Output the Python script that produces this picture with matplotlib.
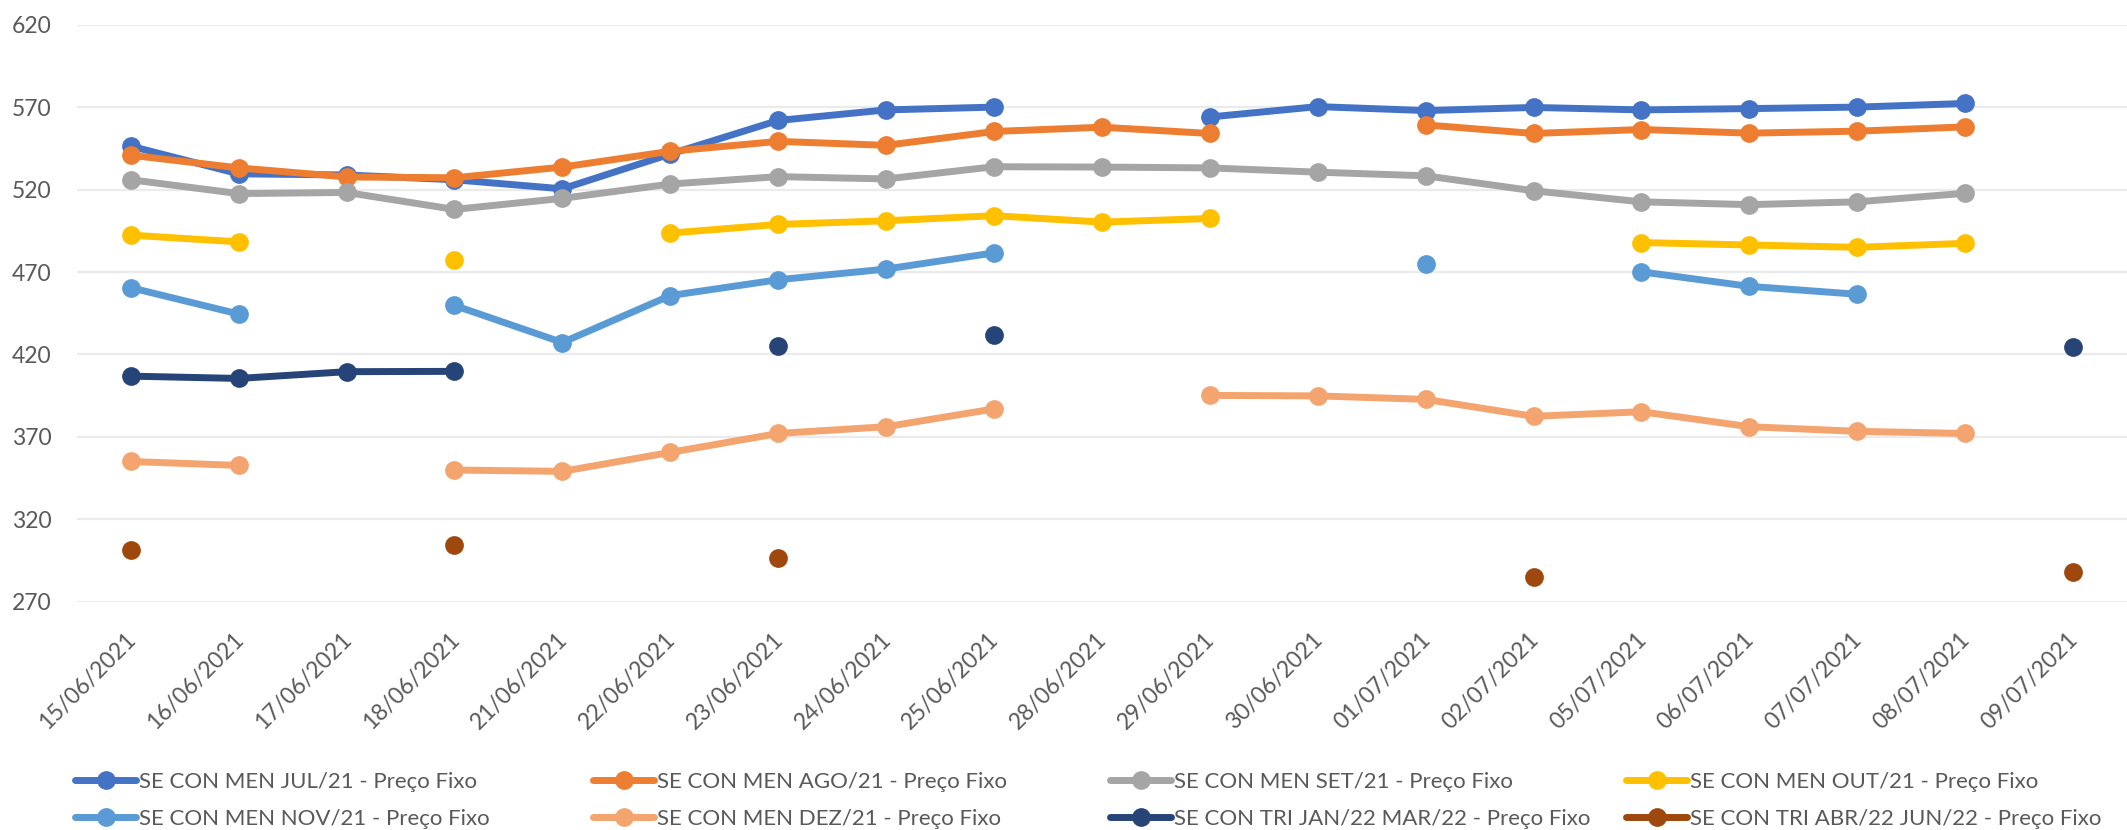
import numpy as np
import matplotlib
matplotlib.use("Agg")
import matplotlib.pyplot as plt
import matplotlib.transforms as mtransforms

nan = np.nan

# categorias (datas)
datas = ['15/06/2021', '16/06/2021', '17/06/2021', '18/06/2021', '21/06/2021',
         '22/06/2021', '23/06/2021', '24/06/2021', '25/06/2021', '28/06/2021',
         '29/06/2021', '30/06/2021', '01/07/2021', '02/07/2021', '05/07/2021',
         '06/07/2021', '07/07/2021', '08/07/2021', '09/07/2021']

# series
jul21 = [546.4, 529.6, 528.9, 526.0, 520.5, 541.6, 562.0, 568.4, 570.1, nan,
         564.1, 570.4, 568.0, 569.9, 568.4, 569.2, 570.1, 572.3, nan]
ago21 = [540.9, 533.2, 527.7, 527.2, 533.7, 543.3, 549.3, 546.9, 555.3, 557.9,
         554.1, nan, 559.3, 554.1, 556.5, 554.3, 555.5, 558.1, nan]
set21 = [526.0, 517.6, 518.3, 508.0, 514.7, 523.4, 527.9, 526.5, 533.9, 533.7,
         533.2, 530.6, 528.4, 519.3, 512.6, 510.9, 512.6, 517.8, nan]
out21 = [492.4, 488.3, nan, 477.3, nan, 493.6, 498.9, 501.1, 504.2, 500.3,
         502.5, nan, nan, nan, 487.9, 486.4, 485.0, 487.4, nan]
nov21 = [460.5, 444.5, nan, 449.7, 427.2, 455.7, 465.3, 471.8, 481.6, nan,
         nan, nan, 474.9, nan, 470.1, 461.3, 456.5, nan, nan]
dez21 = [355.0, 352.6, nan, 349.8, 349.0, 360.5, 372.0, 376.1, 386.9, nan,
         395.1, 394.8, 392.7, 382.4, 385.2, 376.1, 373.3, 372.0, nan]
tri_jan22 = [406.8, 405.4, 409.5, 409.7, nan, nan, 424.8, nan, 432.0, nan,
             nan, nan, nan, nan, nan, nan, nan, nan, 424.6]
tri_abr22 = [301.3, nan, nan, 304.2, nan, nan, 296.3, nan, nan, nan,
             nan, nan, nan, 285.0, nan, nan, nan, nan, 288.0]

series = [
    ("SE CON MEN JUL/21 - Preço Fixo", jul21, "#4472C4"),
    ("SE CON MEN AGO/21 - Preço Fixo", ago21, "#ED7D31"),
    ("SE CON MEN SET/21 - Preço Fixo", set21, "#A5A5A5"),
    ("SE CON MEN OUT/21 - Preço Fixo", out21, "#FFC000"),
    ("SE CON MEN NOV/21 - Preço Fixo", nov21, "#5B9BD5"),
    ("SE CON MEN DEZ/21 - Preço Fixo", dez21, "#F4A46E"),
    ("SE CON TRI JAN/22 MAR/22 - Preço Fixo", tri_jan22, "#264478"),
    ("SE CON TRI ABR/22 JUN/22 - Preço Fixo", tri_abr22, "#9E480E"),
]

plt.rcParams['font.family'] = ['Lato', 'DejaVu Sans']
cor_texto = "#595959"

fig = plt.figure(figsize=(21.27, 8.30), dpi=100)
ax = fig.add_axes([0.0361, 0.2753, 0.9639, 0.6947])

x = np.arange(len(datas))
linhas = []
for nome, vals, cor in series:
    ln, = ax.plot(x, np.array(vals, dtype=float), color=cor, lw=5, marker='o',
                  markersize=13.5, markeredgewidth=0, solid_capstyle='round',
                  label=nome, zorder=3)
    linhas.append(ln)

ax.set_xlim(-0.5, len(datas) - 0.5)
ax.set_ylim(270, 620)
ax.set_yticks(np.arange(270, 621, 50))
ax.grid(axis='y', color='#EBEBEB', lw=1.6, zorder=0)
ax.set_axisbelow(True)
for s in ax.spines.values():
    s.set_visible(False)

ax.set_xticks(x)
ax.set_xticklabels(datas, rotation=45, ha='right', va='top')
ax.tick_params(axis='x', length=0, pad=19.5, labelsize=16.5, labelcolor=cor_texto)
ax.tick_params(axis='y', length=0, pad=18, labelsize=16.5, labelcolor=cor_texto)
desloc = mtransforms.ScaledTranslation(9 / 100, 0, fig.dpi_scale_trans)
for lb in ax.get_xticklabels():
    lb.set_transform(lb.get_transform() + desloc)

# legenda: 4 colunas de largura igual, 2 linhas
col_x = [75, 593, 1110, 1626]
for c in range(4):
    hs = [linhas[c], linhas[c + 4]]
    leg = fig.legend(hs, [h.get_label() for h in hs], loc='upper left',
                     bbox_to_anchor=(col_x[c] / 2127, 1 - 772 / 830),
                     frameon=False, fontsize=16, handlelength=2.75,
                     handletextpad=0.15, borderpad=0, borderaxespad=0,
                     labelspacing=0.75, labelcolor=cor_texto, numpoints=1)

fig.savefig("out.png", dpi=100)
